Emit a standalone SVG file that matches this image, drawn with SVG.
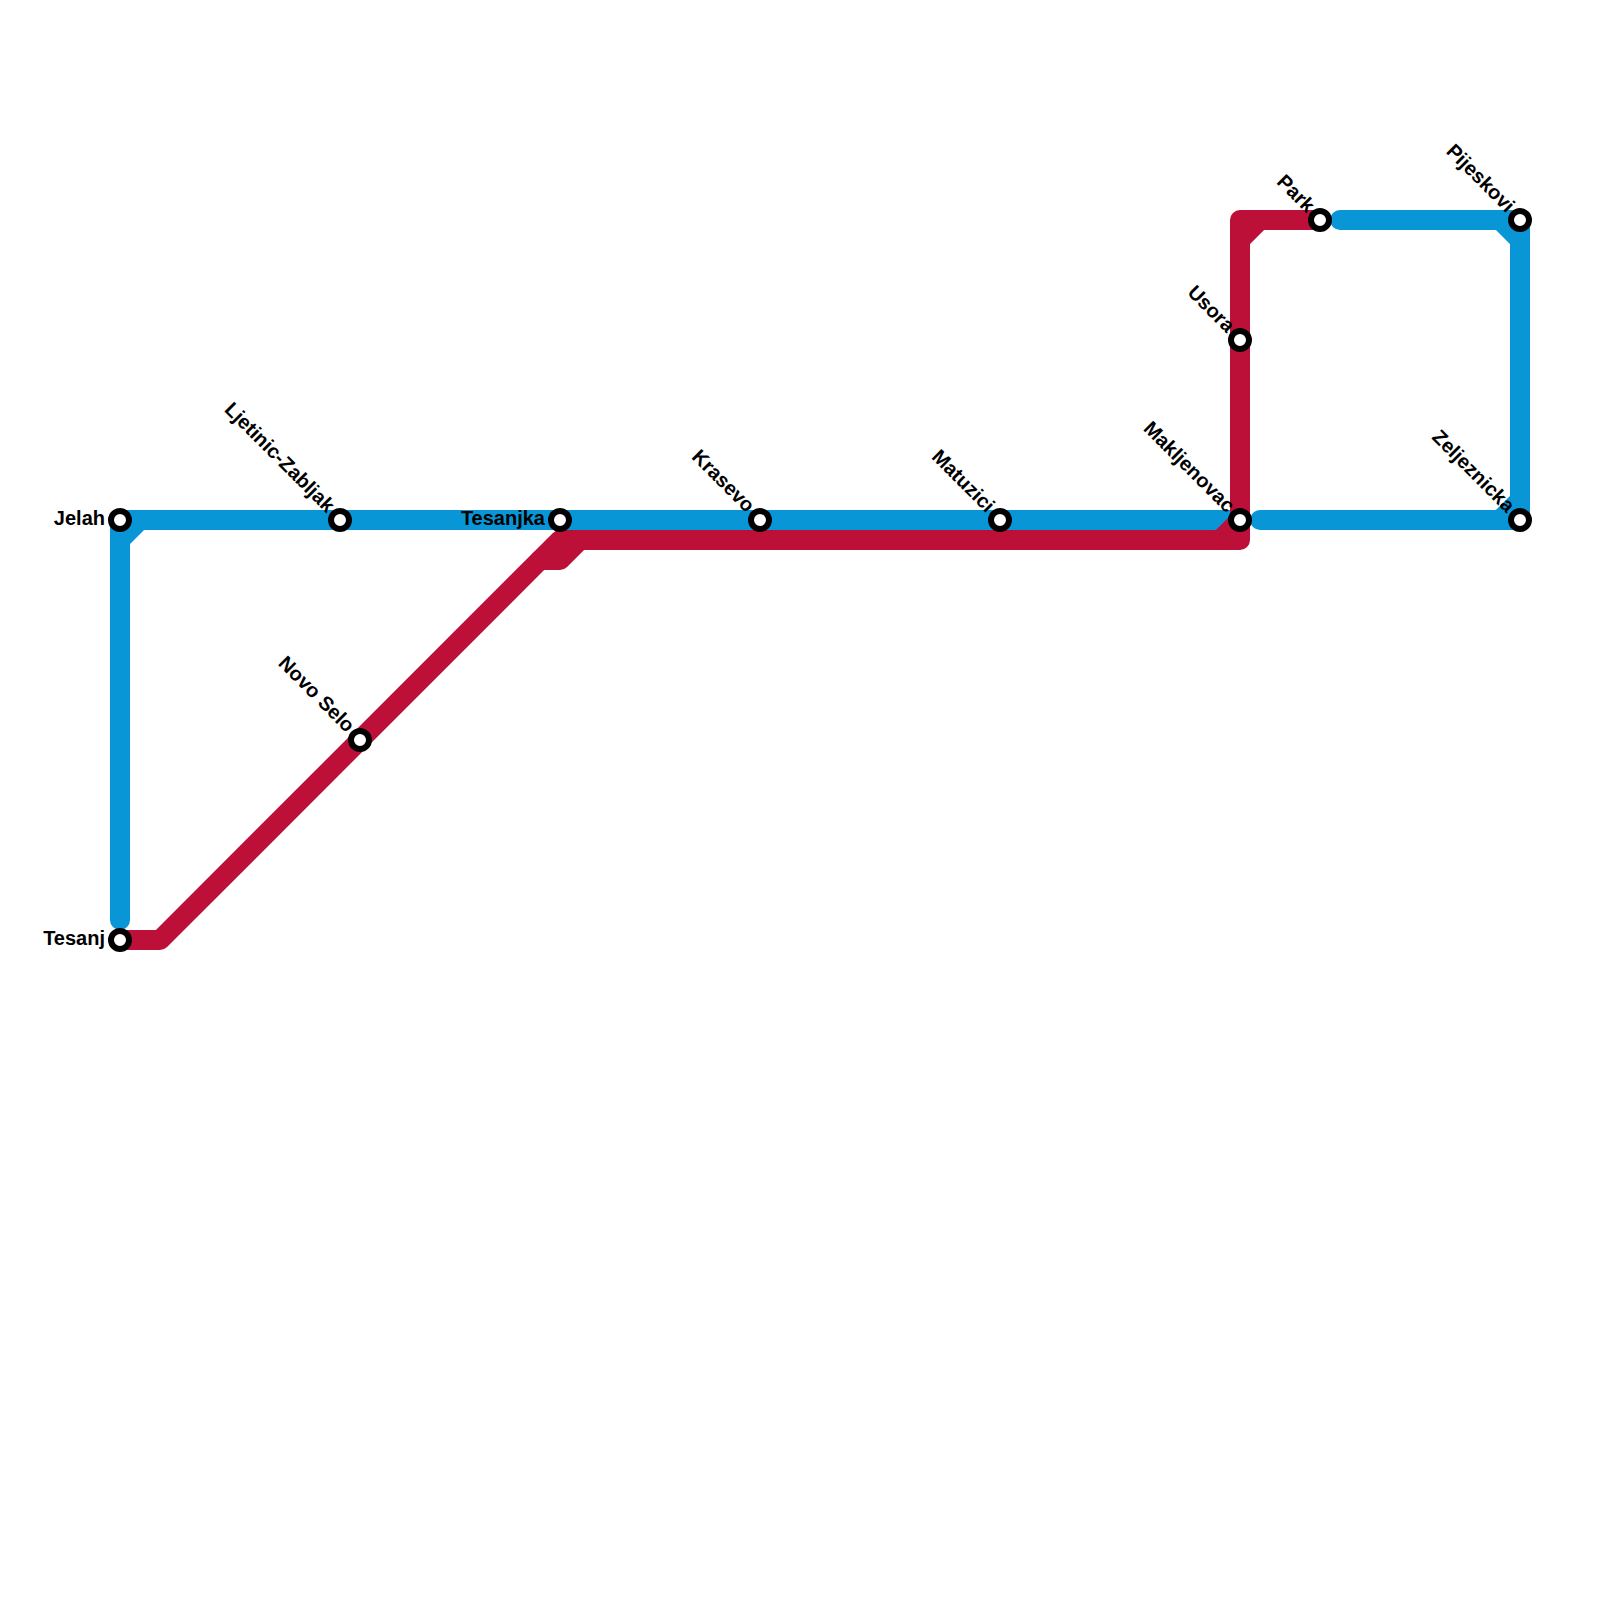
<svg xmlns="http://www.w3.org/2000/svg" width="1600" height="1600" viewBox="0 0 1600 1600">
<style>
.l{fill:none;stroke-width:20;stroke-linejoin:round;stroke-linecap:round}
.b{stroke:#0896d7}
.r{stroke:#bd1038}
.s{fill:#fff;stroke:#000;stroke-width:6}
text{font-family:"Liberation Sans",Arial,sans-serif;font-weight:700;font-size:20px;fill:#000;text-anchor:end}
</style>
<rect width="1600" height="1600" fill="#fff"/>
<g id="connectors">
<path class="l b" d="M120 920V520H1240"/>
<path class="l b" d="M120 540L140 520"/>
<path class="l b" d="M1260 520H1520V220H1340"/>
<path class="l b" d="M1500 220L1520 240"/>
<path class="l b" d="M1500 520L1520 500"/>
<path class="l r" d="M120 940H160L560 540H1240V220H1320"/>
<path class="l r" d="M540 560H560L580 540"/>
<path class="l r" d="M1240 240L1260 220"/>
<path class="l r" d="M1220 540L1240 520"/>
</g>
<g id="jelah"><circle class="s" cx="120" cy="520" r="9"/><text x="105" y="525">Jelah</text></g>
<g id="tesanj"><circle class="s" cx="120" cy="940" r="9"/><text x="105" y="945">Tesanj</text></g>
<g id="ljetinic"><circle class="s" cx="340" cy="520" r="9"/><text transform="translate(326.5 513.5) rotate(45)">Ljetinic-Zabljak</text></g>
<g id="novo-selo"><circle class="s" cx="360" cy="740" r="9"/><text transform="translate(346.5 733.5) rotate(45)">Novo Selo</text></g>
<g id="tesanjka"><circle class="s" cx="560" cy="520" r="9"/><text x="545" y="525">Tesanjka</text></g>
<g id="krasevo"><circle class="s" cx="760" cy="520" r="9"/><text transform="translate(746.5 513.5) rotate(45)">Krasevo</text></g>
<g id="matuzici"><circle class="s" cx="1000" cy="520" r="9"/><text transform="translate(986.5 513.5) rotate(45)">Matuzici</text></g>
<g id="makljenovac"><circle class="s" cx="1240" cy="520" r="9"/><text transform="translate(1226.5 513.5) rotate(45)">Makljenovac</text></g>
<g id="usora"><circle class="s" cx="1240" cy="340" r="9"/><text transform="translate(1226.5 333.5) rotate(45)">Usora</text></g>
<g id="park"><circle class="s" cx="1320" cy="220" r="9"/><text transform="translate(1306.5 213.5) rotate(45)">Park</text></g>
<g id="pijeskovi"><circle class="s" cx="1520" cy="220" r="9"/><text transform="translate(1506.5 213.5) rotate(45)">Pijeskovi</text></g>
<g id="zeljeznicka"><circle class="s" cx="1520" cy="520" r="9"/><text transform="translate(1506.5 513.5) rotate(45)">Zeljeznicka</text></g>
</svg>
